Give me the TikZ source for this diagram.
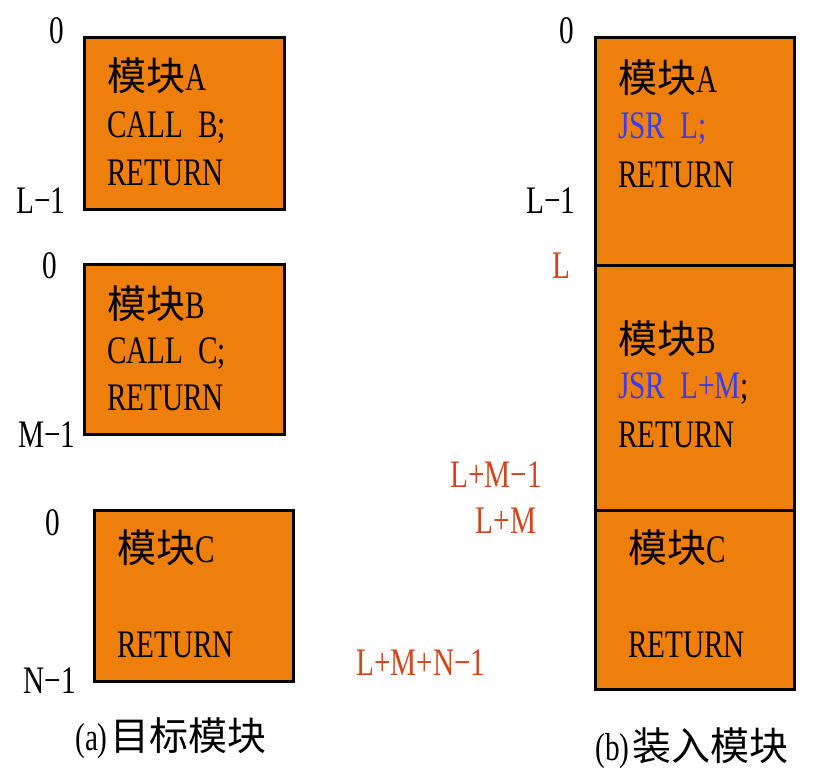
\documentclass[tikz,border=0pt]{standalone}
\usepackage{fontspec}
\setmainfont[FakeStretch=0.75]{Liberation Serif}
\newfontfamily\cjk{Noto Sans CJK SC}
\definecolor{boxorange}{HTML}{EE7F0B}
\definecolor{jsrblue}{HTML}{3B3BF2}
\definecolor{addrred}{HTML}{D2461E}
\newcommand\wsp{\hspace{15pt}}
\begin{document}
\begin{tikzpicture}[x=1pt,y=-1pt,
  every node/.style={inner sep=0pt, outer sep=0pt, font=\fontsize{39}{46}\selectfont},
  box/.style={draw=black, line width=3pt, fill=boxorange, rectangle},
  txt/.style={anchor=base west},
  lab/.style={anchor=base},
  red/.style={anchor=base, text=addrred}]
\useasboundingbox (0,0) rectangle (832,777);
% left column boxes
\node[box, minimum width=200pt, minimum height=172pt] (la) at (184,123) {};
\node[box, minimum width=200pt, minimum height=170pt] (lb) at (184,349) {};
\node[box, minimum width=199pt, minimum height=171pt] (lc) at (193.5,595.5) {};
% left texts
\node[txt] (la1) at (107,90) {{\cjk 模块}A};
\node[txt] (la2) at (107,137) {CALL\wsp B;};
\node[txt] (la3) at (107,185) {RETURN};
\node[txt] (lb1) at (107,318) {{\cjk 模块}B};
\node[txt] (lb2) at (107,363) {CALL\wsp C;};
\node[txt] (lb3) at (107,410) {RETURN};
\node[txt] (lc1) at (117,562) {{\cjk 模块}C};
\node[txt] (lc3) at (117,657) {RETURN};
% left labels
\node[lab] (l0a) at (57,43) {0};
\node[lab] (lL1) at (41,213) {L−1};
\node[lab] (l0b) at (50,278) {0};
\node[lab] (lM1) at (47,447) {M−1};
\node[lab] (l0c) at (53,535) {0};
\node[lab] (lN1) at (50,693) {N−1};
\node[lab] (capa) at (171,750) {(a)\hspace{3pt}{\cjk 目标模块}};
% right column boxes
\node[box, minimum width=199pt, minimum height=228pt] (ra) at (694.5,151) {};
\node[box, minimum width=199pt, minimum height=245pt] (rb) at (694.5,387.5) {};
\node[box, minimum width=199pt, minimum height=179pt] (rc) at (694.5,599.5) {};
% right texts
\node[txt] (ra1) at (618,92) {{\cjk 模块}A};
\node[txt] (ra2) at (618,138) {\textcolor{jsrblue}{JSR\wsp L;}};
\node[txt] (ra3) at (618,187) {RETURN};
\node[txt] (rb1) at (618,353) {{\cjk 模块}B};
\node[txt] (rb2) at (618,398) {\textcolor{jsrblue}{JSR\wsp L+M};};
\node[txt] (rb3) at (618,447) {RETURN};
\node[txt] (rc1) at (628,562) {{\cjk 模块}C};
\node[txt] (rc3) at (628,657) {RETURN};
% right labels
\node[lab] (r0) at (567,43) {0};
\node[lab] (rL1) at (551,213) {L−1};
\node[red] (rL) at (561,278) {L};
\node[red] (rLM1) at (496,487) {L+M−1};
\node[red] (rLM) at (506,533) {L+M};
\node[red] (rLMN1) at (421,675) {L+M+N−1};
\node[lab] (capb) at (692,760) {(b)\hspace{3pt}{\cjk 装入模块}};
\end{tikzpicture}
\end{document}
